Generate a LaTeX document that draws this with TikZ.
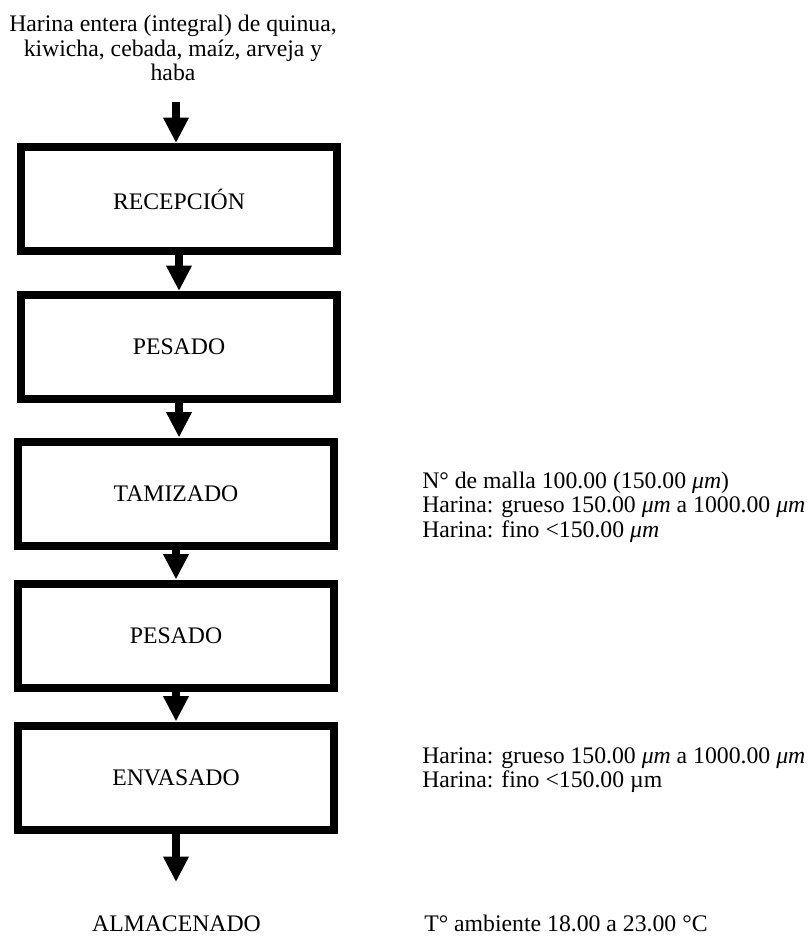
\documentclass[tikz,border=0pt]{standalone}
\usepackage{fontspec}
\setmainfont{Liberation Serif}
\usetikzlibrary{arrows.meta, positioning}

\tikzset{
  caja/.style={draw, line width=6pt, minimum width=237pt, minimum height=78pt, inner sep=0pt, align=center},
  flecha/.style={line width=6pt, -{Triangle[width=18pt, length=19pt]}},
  nota/.style={anchor=west, align=left, inner sep=0pt},
}

\begin{document}
\begin{tikzpicture}[x=0.75pt, y=-0.75pt, font=\fontsize{17.8}{18.4}\selectfont]
  \useasboundingbox (0,0) rectangle (811,937);

  % materia prima
  \node[align=center, inner sep=0pt, anchor=north] (insumo) at (173,15)
    {Harina entera (integral) de quinua,\\ kiwicha, cebada, maíz, arveja y\\ haba};
  \coordinate (inicio) at (176,102);

  % etapas del proceso
  \node[caja] (recep)  at (179,199)   {RECEPCIÓN};
  \node[caja] (pesa)   at (179,347)   {PESADO};
  \node[caja] (tamiz)  at (176,493.5) {TAMIZADO};
  \node[caja] (pesb)   at (176,635.5) {PESADO};
  \node[caja] (envas)  at (176,777.5) {ENVASADO};
  \coordinate (fin) at (176,882);
  \node[anchor=base, inner sep=0pt] (almac) at (176.5,931) {ALMACENADO};

  % flechas
  \draw[flecha] (inicio) -- (inicio |- recep.north);
  \draw[flecha] (recep.south) -- (recep.south |- pesa.north);
  \draw[flecha] (pesa.south) -- (pesa.south |- tamiz.north);
  \draw[flecha] (tamiz.south) -- (tamiz.south |- pesb.north);
  \draw[flecha] (pesb.south) -- (pesb.south |- envas.north);
  \draw[flecha] (envas.south) -- (envas.south |- fin);

  % especificaciones
  \node[nota] (espTamiz) at (422,507)
    {N° de malla 100.00 (150.00 \textit{μm})\\
     Harina: grueso 150.00 \textit{μm} a 1000.00 \textit{μm}\\
     Harina: fino <150.00 \textit{μm}};
  \node[nota] (espEnvas) at (422,770)
    {Harina: grueso 150.00 \textit{μm} a 1000.00 \textit{μm}\\
     Harina: fino <150.00 µm};
  \node[anchor=base west, inner sep=0pt] (espAlmac) at (424,931) {T° ambiente 18.00 a 23.00 °C};
\end{tikzpicture}
\end{document}
